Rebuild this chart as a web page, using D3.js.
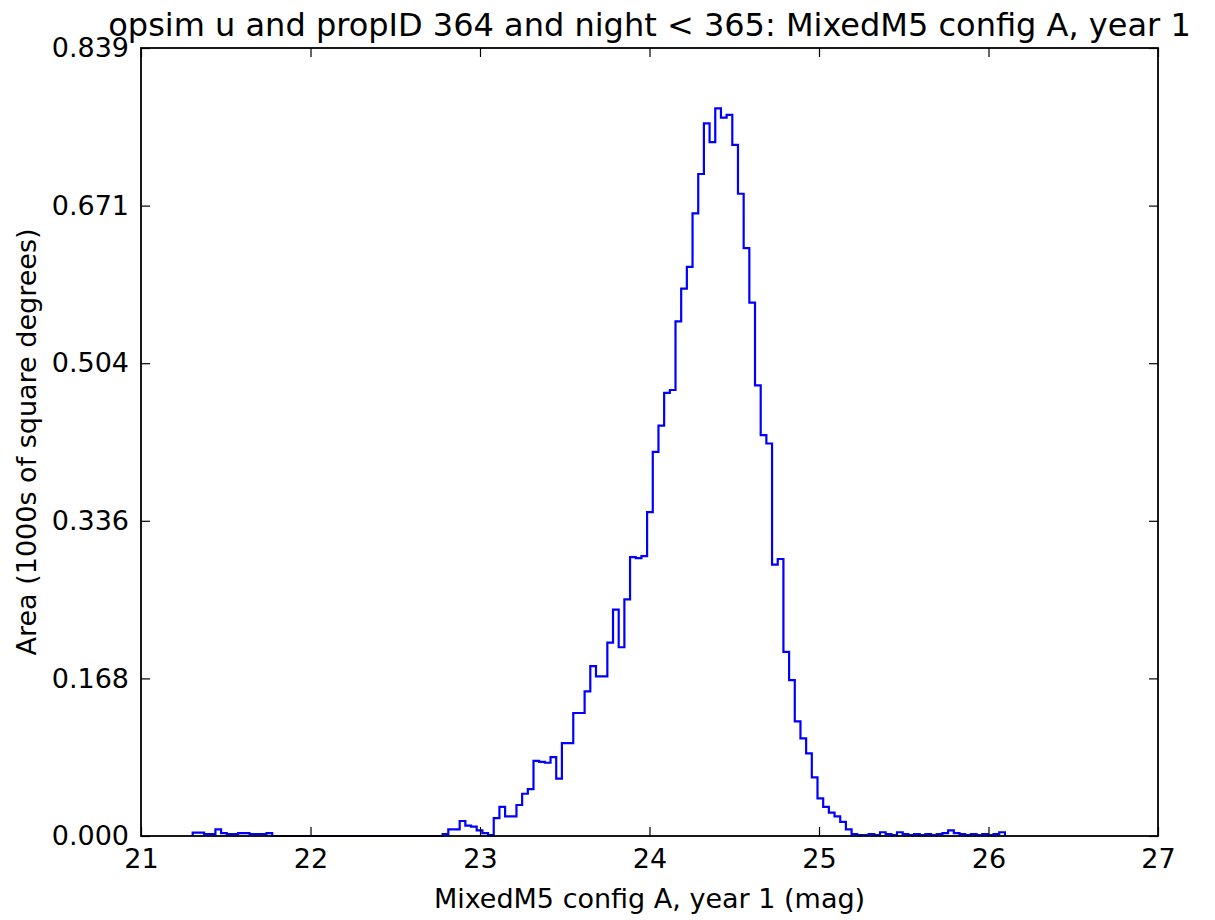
<!DOCTYPE html>
<html>
<head>
<meta charset="utf-8">
<script src="https://cdn.jsdelivr.net/npm/d3@7"></script>
<style>
  body { margin: 0; background: #fff; }
  svg { display: block; }
  text { font-family: "DejaVu Sans", sans-serif; fill: #000; }
</style>
</head>
<body>
<div id="chart"></div>
<script>
// histogram of area per magnitude bin
const chartTitle = "opsim u and propID 364 and night < 365: MixedM5 config A, year 1";
const xLabel = "MixedM5 config A, year 1 (mag)";
const yLabel = "Area (1000s of square degrees)";

// first and last bin edge (mag)
const magRange = [21.305, 26.097];

// area in each bin (1000s of sq deg), 143 bins
const areaValues = [
  0.0035, 0.0035, 0.002, 0.002, 0.007, 0.003, 0.002, 0.002, 0.003, 0.003,
  0.002, 0.002, 0.002, 0.003, 0, 0, 0, 0, 0, 0,
  0, 0, 0, 0, 0, 0, 0, 0, 0, 0,
  0, 0, 0, 0, 0, 0, 0, 0, 0, 0,
  0, 0, 0, 0, 0.002, 0.007, 0.007, 0.016, 0.011, 0.010,
  0.006, 0.003, 0.001, 0.019, 0.031, 0.021, 0.021, 0.033, 0.045, 0.050,
  0.080, 0.079, 0.078, 0.084, 0.061, 0.099, 0.099, 0.131, 0.131, 0.154,
  0.181, 0.170, 0.170, 0.206, 0.241, 0.201, 0.252, 0.297, 0.296, 0.298,
  0.345, 0.409, 0.437, 0.472, 0.475, 0.548, 0.583, 0.606, 0.663, 0.705,
  0.759, 0.739, 0.775, 0.765, 0.768, 0.736, 0.684, 0.626, 0.568, 0.480,
  0.427, 0.418, 0.289, 0.295, 0.196, 0.166, 0.122, 0.104, 0.088, 0.0625,
  0.040, 0.031, 0.025, 0.021, 0.015, 0.007, 0.002, 0.001, 0.001, 0.002,
  0.001, 0.004, 0.002, 0.001, 0.004, 0.002, 0.001, 0.002, 0.001, 0.002,
  0.001, 0.002, 0.003, 0.006, 0.003, 0.002, 0.001, 0.002, 0.001, 0.002,
  0.001, 0.002, 0.004
];

const xTicks = [21, 22, 23, 24, 25, 26, 27];
const yTicks = [0, 0.16784, 0.33568, 0.50352, 0.67136, 0.8392];

var width = 1215;
var height = 920;
var margin = {top: 48, right: 57, bottom: 84, left: 141};

const svg = d3.select("#chart")
    .append("svg")
    .attr("width", width)
    .attr("height", height);

svg.append("rect")
    .attr("width", width)
    .attr("height", height)
    .attr("fill", "#fff");

const xScale = d3.scaleLinear()
    .domain([21, 27])
    .range([margin.left, width - margin.right]);
const yScale = d3.scaleLinear()
    .domain([0, yTicks[yTicks.length - 1]])
    .range([height - margin.bottom, margin.top]);

// bin edges spaced evenly between the first and last edge
const nBins = areaValues.length;
const binW = (magRange[1] - magRange[0]) / nBins;
let pts = [[magRange[0], 0]];
areaValues.forEach((v, i) => pts.push([magRange[0] + i * binW, v]));
pts.push([magRange[1], areaValues[nBins - 1]]);
pts.push([magRange[1], 0]);

const line = d3.line()
    .x(d => xScale(d[0]))
    .y(d => yScale(d[1]))
    .curve(d3.curveStepAfter);

svg.append("path")
    .datum(pts)
    .attr("d", line)
    .attr("fill", "none")
    .attr("stroke", "#0000ff")
    .attr("stroke-width", 2.2)
    .attr("stroke-linejoin", "miter");

// inward ticks on all four sides, matplotlib classic look
const tickLen = 9;
function styleAxis(g) {
    g.select(".domain").remove();
    g.selectAll(".tick line").attr("stroke", "#000").attr("stroke-width", 1.2);
    g.selectAll("text").attr("font-size", "27px").attr("fill", "#000");
}

svg.append("g")
    .attr("transform", `translate(0, ${height - margin.bottom})`)
    .call(d3.axisBottom(xScale).tickValues(xTicks).tickFormat(d3.format("d"))
        .tickSizeInner(-tickLen).tickPadding(13))
    .call(styleAxis);

svg.append("g")
    .attr("transform", `translate(0, ${margin.top})`)
    .call(d3.axisTop(xScale).tickValues(xTicks).tickFormat("").tickSizeInner(-tickLen))
    .call(styleAxis);

svg.append("g")
    .attr("transform", `translate(${margin.left}, 0)`)
    .call(d3.axisLeft(yScale).tickValues(yTicks).tickFormat(d3.format(".3f"))
        .tickSizeInner(-tickLen).tickPadding(12))
    .call(styleAxis);

svg.append("g")
    .attr("transform", `translate(${width - margin.right}, 0)`)
    .call(d3.axisRight(yScale).tickValues(yTicks).tickFormat("").tickSizeInner(-tickLen))
    .call(styleAxis);

// frame
svg.append("rect")
    .attr("x", margin.left)
    .attr("y", margin.top)
    .attr("width", width - margin.left - margin.right)
    .attr("height", height - margin.top - margin.bottom)
    .attr("fill", "none")
    .attr("stroke", "#000")
    .attr("stroke-width", 1.8);

svg.append("text")
    .attr("x", (margin.left + width - margin.right) / 2)
    .attr("y", 36)
    .attr("text-anchor", "middle")
    .attr("font-size", "32px")
    .text(chartTitle);

svg.append("text")
    .attr("x", (margin.left + width - margin.right) / 2)
    .attr("y", 908)
    .attr("text-anchor", "middle")
    .attr("font-size", "27px")
    .text(xLabel);

svg.append("text")
    .attr("transform", `translate(36, ${(margin.top + height - margin.bottom) / 2}) rotate(-90)`)
    .attr("text-anchor", "middle")
    .attr("font-size", "27px")
    .text(yLabel);
</script>
</body>
</html>
